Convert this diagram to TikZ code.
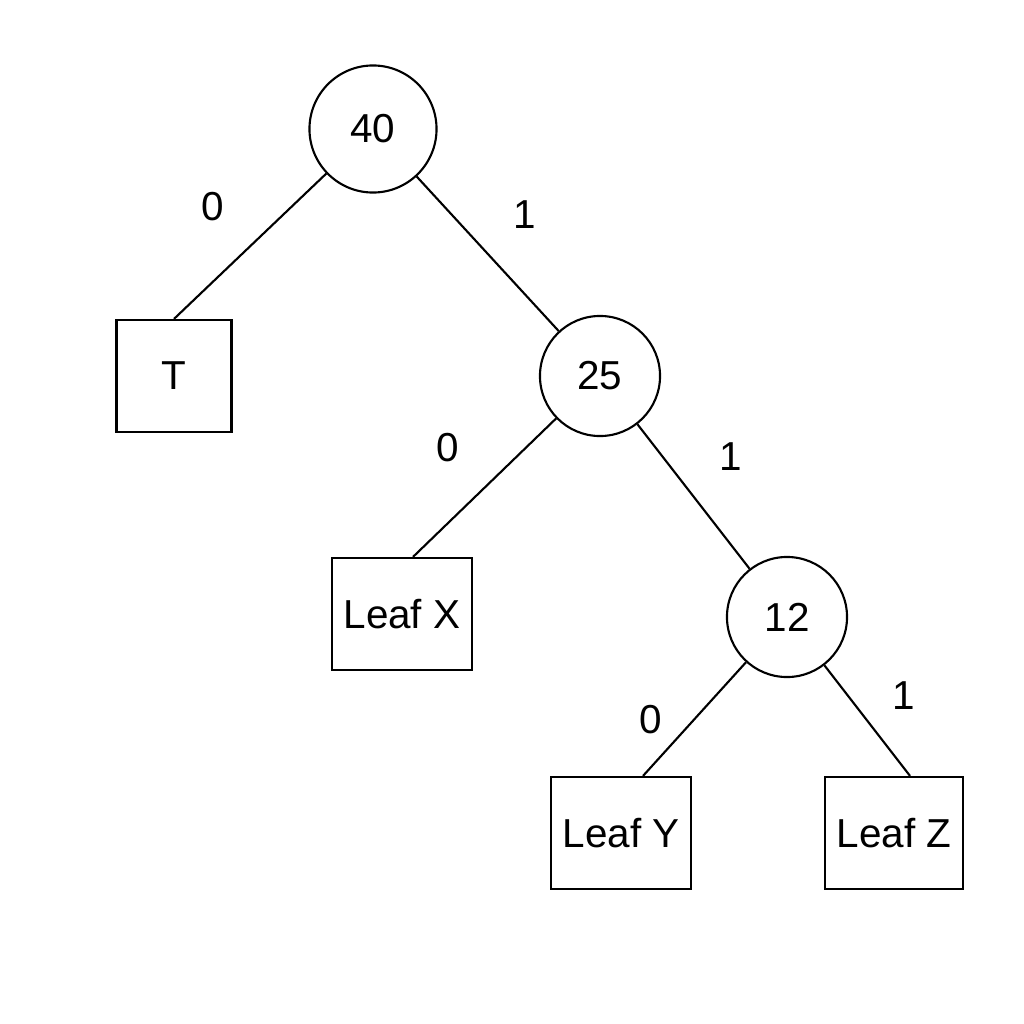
\documentclass[tikz,border=0pt]{standalone}
\usepackage{fontspec}
\setmainfont{Liberation Sans}
\usetikzlibrary{positioning}
\tikzset{
  inner/.style={circle, draw, line width=0.6pt, minimum size=1.2cm, inner sep=0pt},
  leaf/.style={rectangle, draw, line width=0.6pt, minimum width=1.29cm, minimum height=1.12cm},
  branch/.style={line width=0.6pt},
  bit/.style={font=\fontsize{11.5}{14}\selectfont, inner sep=1pt}
}
\begin{document}
\begin{tikzpicture}[x=0.01cm, y=-0.01cm, font=\fontsize{11.5}{14}\selectfont]
\useasboundingbox (0,0) rectangle (1024,1024);

% internal nodes
\node (n40) [inner, minimum size=1.27cm] at (373,129) {40};
\node (n25) [inner] at (600,376) {25};
\node (n12) [inner] at (787,617) {12};

% leaves
\node (t) [leaf, minimum width=1.15cm] at (174,376) {T};
\node (lx) [leaf] at (402,614) {Leaf X};
\node (ly) [leaf] at (621,833) {Leaf Y};
\node (lz) [leaf] at (894,833) {Leaf Z};

% branches
\draw[branch] (n40) -- (t.north) node[bit, midway, above left=6pt and 6pt] {0};
\draw[branch] (n40) -- (n25) node[bit, midway, above right=6pt and 6pt] {1};
\draw[branch] (n25) -- ([xshift=0.11cm]lx.north) node[bit, midway, above left=6pt and 6pt] {0};
\draw[branch] (n25) -- (n12) node[bit, midway, above right=6pt and 6pt] {1};
\draw[branch] (n12) -- ([xshift=0.22cm]ly.north) node[bit, midway, left=8pt] {0};
\draw[branch] (n12) -- ([xshift=0.16cm]lz.north) node[bit, midway, above right=2pt and 6pt] {1};
\end{tikzpicture}
\end{document}
